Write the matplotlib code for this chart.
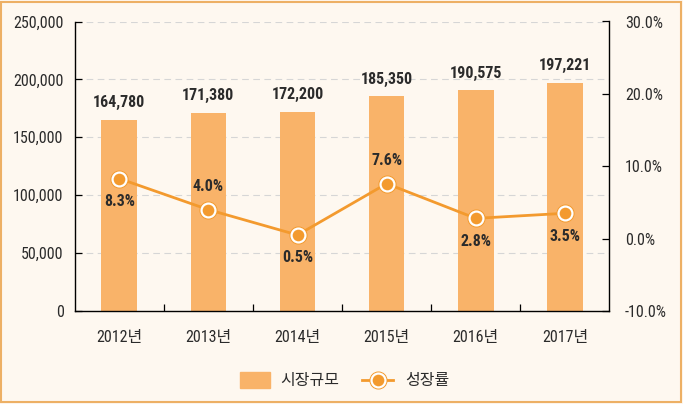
import matplotlib
matplotlib.use("Agg")
import matplotlib.pyplot as plt
from matplotlib.patches import Rectangle
from matplotlib.lines import Line2D
from matplotlib import font_manager
import numpy as np

years = ["2012년", "2013년", "2014년", "2015년", "2016년", "2017년"]
market = [164780, 171380, 172200, 185350, 190575, 197221]
growth = [8.3, 4.0, 0.5, 7.6, 2.8, 3.5]
growth_label_above = [False, True, False, True, False, False]
left_ticks = [0, 50000, 100000, 150000, 200000, 250000]
right_ticks = [-10, 0, 10, 20, 30]

names = {f.name for f in font_manager.fontManager.ttflist}
narrow = None
for cand in ['Roboto Condensed', 'Liberation Sans Narrow', 'DejaVu Sans Condensed',
             'Open Sans Condensed']:
    if cand in names:
        narrow = cand
        break
if narrow:
    plt.rcParams['font.family'] = [narrow, 'Noto Sans CJK KR', 'DejaVu Sans']
    FS = 11.5
else:
    plt.rcParams['font.family'] = ['Noto Sans CJK KR', 'DejaVu Sans']
    FS = 10

bar_color = "#F9B369"
line_color = "#F39A2E"
bg = "#FEF8F0"
txt = "#2b2b2b"

fig = plt.figure(figsize=(6.83, 4.04), dpi=100)
fig.patch.set_facecolor(bg)
fig.patches.append(Rectangle((0.002, 0.004), 0.995, 0.992, transform=fig.transFigure,
                             fill=False, edgecolor="#EDB065", linewidth=1.5))

W, H = 683, 404
ax = fig.add_axes([74.7 / W, 1 - 311 / H, (609.5 - 74.7) / W, (311 - 21.5) / H])
ax.set_facecolor(bg)
x = np.arange(len(years))
ax.bar(x, market, width=0.4, color=bar_color, zorder=2)
ax.set_xlim(-0.5, len(years) - 0.5)
ax.set_ylim(0, 250000)
ax.set_yticks(left_ticks)
ax.set_yticklabels([f"{v:,}" for v in left_ticks], fontsize=FS, color=txt)
ax.set_xticks(np.arange(len(years) - 1) + 0.5)
ax.set_xticklabels([])
ax.tick_params(axis='x', length=5, direction='in', width=0.9)
ax.tick_params(axis='y', length=5, direction='in', width=0.9, pad=8)
for v in left_ticks[1:]:
    ax.axhline(v, color="#d6d6d6", linestyle=(0, (6, 4)), linewidth=0.8, zorder=1)
for i, y in enumerate(years):
    ax.text(i, -0.093, y, transform=ax.get_xaxis_transform(), ha='center', va='center',
            fontsize=FS, color=txt)
ax.spines['top'].set_visible(False)
ax.spines['right'].set_visible(False)
ax.spines['left'].set_linewidth(1.0)
ax.spines['bottom'].set_linewidth(1.0)

for i, v in enumerate(market):
    ax.annotate(f"{v:,}", (i, v), xytext=(0, 7), textcoords='offset points', ha='center',
                va='bottom', fontsize=FS, fontweight='bold', color=txt, zorder=5)

ax2 = ax.twinx()
ax2.set_ylim(-10, 30)
ax2.set_yticks(right_ticks)
ax2.set_yticklabels([f"{v:.1f}%" for v in right_ticks], fontsize=FS, color=txt)
ax2.tick_params(axis='y', length=5, direction='in', width=0.9, pad=11)
ax2.spines['top'].set_visible(False)
ax2.spines['left'].set_visible(False)
ax2.spines['bottom'].set_visible(False)
ax2.spines['right'].set_linewidth(1.0)
ax2.plot(x, growth, color=line_color, linewidth=2, zorder=3)
ax2.plot(x, growth, linestyle='none', marker='o', markersize=12, color=line_color, zorder=4)
ax2.plot(x, growth, linestyle='none', marker='o', markersize=10, markerfacecolor=line_color,
         markeredgecolor='white', markeredgewidth=1.6, zorder=5)
for i, (g, up) in enumerate(zip(growth, growth_label_above)):
    ax2.annotate(f"{g:.1f}%", (i, g), xytext=(0, 11 if up else -11), textcoords='offset points',
                 ha='center', va='bottom' if up else 'top', fontsize=FS, fontweight='bold',
                 color=txt, zorder=6)

# legend
lx = fig.add_axes([0, 0, 1, 1], facecolor='none')
lx.set_xlim(0, W)
lx.set_ylim(H, 0)
lx.axis('off')
lx.add_patch(Rectangle((240, 372), 30, 16, color=bar_color))
lx.text(280, 380, "시장규모", va='center', ha='left', fontsize=FS, color=txt)
lx.add_line(Line2D([362, 393], [380, 380], color=line_color, linewidth=2))
lx.plot([377.5], [380], marker='o', markersize=12, color=line_color)
lx.plot([377.5], [380], marker='o', markersize=10, markerfacecolor=line_color,
        markeredgecolor='white', markeredgewidth=1.6)
lx.text(405, 380, "성장률", va='center', ha='left', fontsize=FS, color=txt)

fig.savefig("out.png", dpi=100, facecolor=bg)
